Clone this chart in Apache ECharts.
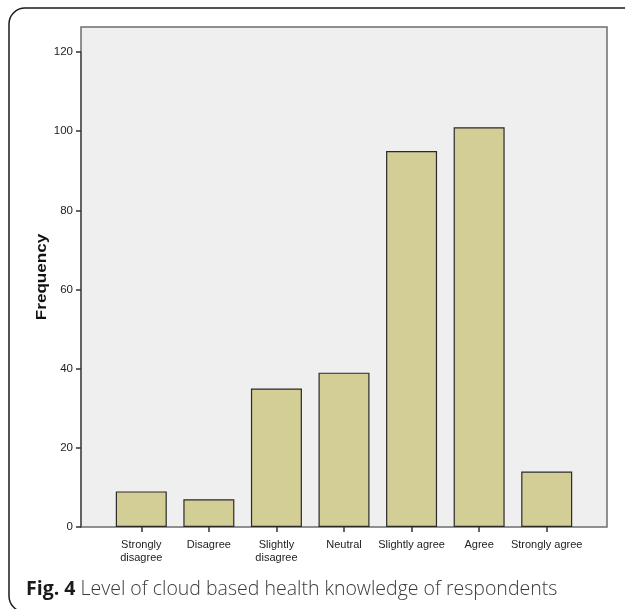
<!DOCTYPE html>
<html>
<head>
<meta charset="utf-8">
<script src="https://cdn.jsdelivr.net/npm/echarts@6/dist/echarts.min.js"></script>
<style>
html,body{margin:0;padding:0;background:#fff;}
#c{width:625px;height:609px;}
</style>
</head>
<body>
<div id="c"></div>
<script>
const categories = ['Strongly\ndisagree', 'Disagree', 'Slightly\ndisagree', 'Neutral', 'Slightly agree', 'Agree', 'Strongly agree'];
const frequency = [9, 7, 35, 39, 95, 101, 14];
const yTicks = [0, 20, 40, 60, 80, 100, 120];
const yAxisTitle = 'Frequency';
const captionBold = 'Fig. 4';
const captionText = ' Level of cloud based health knowledge of respondents';

const narrow = "'Liberation Sans Narrow', 'Arial Narrow', 'Liberation Sans', Arial, sans-serif";
const chart = echarts.init(document.getElementById('c'), null, {renderer: 'canvas'});
chart.setOption({
  animation: false,
  backgroundColor: '#ffffff',
  grid: [
    {left: 81, right: 18, top: 27, bottom: 82, show: true, backgroundColor: '#efefef', borderColor: '#6e6e6e', borderWidth: 1.5},
    {left: 81, right: 18, top: 52, bottom: 82},
    {left: 107.5, right: 44.5, top: 52, bottom: 82}
  ],
  xAxis: [
    {gridIndex: 0, type: 'value', show: false, min: 0, max: 1},
    {gridIndex: 1, type: 'value', show: false, min: 0, max: 1},
    {gridIndex: 2, type: 'category', data: categories,
      axisLine: {show: false},
      axisTick: {show: true, alignWithLabel: true, length: 5, lineStyle: {color: '#333', width: 1.5}},
      axisLabel: {interval: 0, margin: 11, fontSize: 11, fontFamily: narrow, color: '#222', lineHeight: 13}
    }
  ],
  yAxis: [
    {gridIndex: 0, type: 'value', show: false, min: 0, max: 1},
    {gridIndex: 1, type: 'value', min: yTicks[0], max: yTicks[yTicks.length - 1], interval: 20,
      axisLine: {show: true, lineStyle: {color: '#555', width: 1.5}},
      axisTick: {show: true, length: 5, lineStyle: {color: '#333', width: 1.5}},
      axisLabel: {margin: 8, fontSize: 11.5, fontFamily: narrow, color: '#222'},
      splitLine: {show: false}
    },
    {gridIndex: 2, type: 'value', show: false, min: yTicks[0], max: yTicks[yTicks.length - 1]}
  ],
  series: [{
    type: 'bar',
    xAxisIndex: 2,
    yAxisIndex: 2,
    data: frequency,
    barWidth: 51,
    itemStyle: {color: '#d3cd96', borderColor: '#2a2a2a', borderWidth: 1.2}
  }],
  graphic: [
    {type: 'rect', shape: {x: 9, y: 8, width: 650, height: 604, r: 16}, style: {fill: 'none', stroke: '#1a1a1a', lineWidth: 1.5}, silent: true},
    {type: 'text', x: 42, y: 277, rotation: Math.PI / 2, scaleX: 1.22,
      style: {text: yAxisTitle, font: "bold 14px 'Liberation Sans', Arial, sans-serif", fill: '#111', align: 'center', verticalAlign: 'middle'}},
    {type: 'text', x: 26, y: 589,
      style: {
        text: '{b|' + captionBold + '}{n|' + captionText + '}',
        verticalAlign: 'middle',
        rich: {
          b: {fontFamily: "'Open Sans', sans-serif", fontWeight: 'bold', fontSize: 19.5, fill: '#1a1a1a'},
          n: {fontFamily: "'Open Sans', sans-serif", fontWeight: 300, fontSize: 19.5, fill: '#3a3a3a'}
        }
      }}
  ]
});
</script>
</body>
</html>
